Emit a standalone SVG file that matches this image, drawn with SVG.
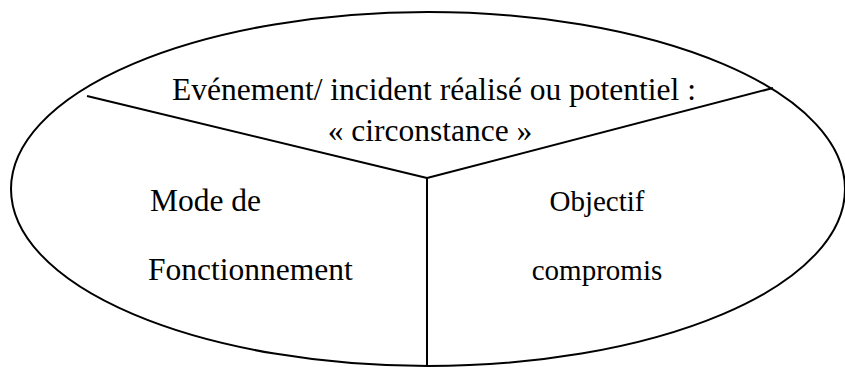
<svg xmlns="http://www.w3.org/2000/svg" width="845" height="367" viewBox="0 0 845 367">
<style>
.ln{fill:none;stroke:#000;stroke-width:2}
.t{font-family:"Liberation Serif","Times New Roman",serif;font-size:31.5px;fill:#000}
.s{font-size:29px}
</style>
<rect width="845" height="367" fill="#fff"/>
<g id="ellipse"><ellipse class="ln" cx="428" cy="189" rx="417" ry="177"/></g>
<g id="connectors">
<line class="ln" x1="87" y1="96" x2="427" y2="178"/>
<line class="ln" x1="427" y1="178" x2="773" y2="88"/>
<line class="ln" x1="427" y1="178" x2="427" y2="367"/>
</g>
<g id="circonstance">
<text class="t" x="434" y="100" text-anchor="middle">Evénement/ incident réalisé ou potentiel :</text>
<text class="t" x="430" y="141" text-anchor="middle">« circonstance »</text>
</g>
<g id="mode">
<text class="t" x="150" y="211">Mode de</text>
<text class="t" x="148" y="280">Fonctionnement</text>
</g>
<g id="objectif">
<text class="t s" x="597" y="211" text-anchor="middle">Objectif</text>
<text class="t s" x="597" y="280" text-anchor="middle">compromis</text>
</g>
</svg>
